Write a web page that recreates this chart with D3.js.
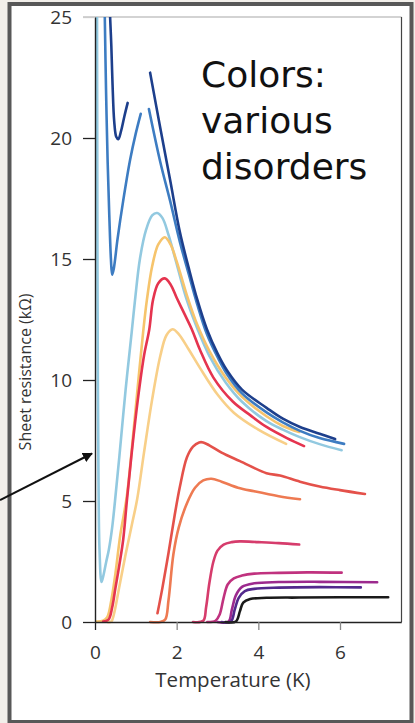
<!DOCTYPE html>
<html>
<head>
<meta charset="utf-8">
<script src="https://cdn.jsdelivr.net/npm/d3@7"></script>
<style>
  html, body { margin: 0; padding: 0; background: #f2efea; }
  svg { display: block; }
  .tick text { font-family: "Open Sans", sans-serif; fill: #333; }
</style>
</head>
<body>
<svg id="chart" width="415" height="723"></svg>
<script>
// Sheet resistance vs temperature, one curve per disorder level: [T (K), R (kΩ)]
const navyLow   = [[0.37,25],[0.40,23.8],[0.43,22.2],[0.47,20.7],[0.52,20.05],[0.57,19.95],[0.64,20.3],[0.72,20.9],[0.80,21.45]];
const navyHigh  = [[1.35,22.7],[1.6,20.4],[1.84,18.26],[2.08,16.1],[2.3,14.6],[2.5,13.35],[2.74,12.1],[3.0,11.1],[3.23,10.4],[3.6,9.6],[4.21,8.84],[4.6,8.4],[5.02,8.06],[5.5,7.78],[5.88,7.56]];
const blueLow   = [[0.24,25],[0.27,22],[0.31,19],[0.35,16.8],[0.39,15],[0.42,14.35],[0.46,14.6],[0.55,15.8],[0.69,17.4],[0.86,19.1],[1.0,20.2],[1.12,21.0]];
const blueHigh  = [[1.32,21.2],[1.6,19.0],[1.84,17.4],[2.08,15.7],[2.3,14.35],[2.5,13.15],[2.74,11.9],[3.0,10.95],[3.23,10.25],[3.6,9.45],[4.21,8.65],[4.6,8.25],[5.02,7.9],[5.5,7.6],[6.1,7.36]];
const lightBlue = [[0.05,25],[0.055,20],[0.06,15],[0.07,10],[0.085,6],[0.11,3],[0.16,1.65],[0.21,1.95],[0.27,2.45],[0.34,3.0],[0.42,3.9],[0.49,5.0],[0.6,6.9],[0.75,9.6],[0.9,12.0],[0.98,13.3],[1.1,15.0],[1.25,16.2],[1.4,16.8],[1.52,16.9],[1.65,16.7],[1.8,16.0],[2.0,14.8],[2.25,13.3],[2.52,12.07],[2.8,11.0],[3.2,9.9],[3.6,9.1],[4.2,8.3],[4.6,7.95],[5.0,7.65],[5.5,7.35],[6.04,7.1]];
const yellowHigh= [[0.0,0.02],[0.2,0.05],[0.3,0.2],[0.4,0.9],[0.5,2.0],[0.62,3.6],[0.78,5.2],[0.95,8.0],[1.08,10.3],[1.18,12.0],[1.27,13.3],[1.4,14.7],[1.55,15.6],[1.71,15.9],[1.85,15.6],[2.0,14.9],[2.25,13.5],[2.5,12.3],[2.8,11.2],[3.2,10.1],[3.6,9.3],[4.2,8.5],[4.6,8.1],[5.0,7.85]];
const red       = [[0.2,0.02],[0.33,0.1],[0.42,0.6],[0.5,1.4],[0.6,2.4],[0.69,3.4],[0.78,5.0],[0.9,7.0],[1.05,9.2],[1.2,11.0],[1.33,12.1],[1.42,13.3],[1.55,14.0],[1.71,14.2],[1.85,13.95],[2.0,13.4],[2.2,12.7],[2.37,12.1],[2.57,11.25],[2.9,10.1],[3.38,9.1],[3.8,8.55],[4.2,8.06],[4.7,7.6],[5.12,7.27]];
const yellowLow = [[0.3,0.0],[0.4,0.02],[0.46,0.3],[0.6,1.5],[0.75,2.8],[0.9,4.0],[1.03,5.05],[1.2,7.0],[1.4,9.2],[1.6,11.0],[1.75,11.85],[1.9,12.1],[2.05,11.9],[2.3,11.25],[2.57,10.5],[3.0,9.4],[3.4,8.65],[4.0,7.95],[4.68,7.36]];
const tomato    = [[1.53,0.36],[1.65,1.4],[1.8,2.85],[1.95,4.4],[2.08,5.6],[2.25,6.8],[2.4,7.25],[2.55,7.42],[2.65,7.42],[2.8,7.3],[3.1,7.0],[3.55,6.65],[4.2,6.15],[4.53,6.05],[5.02,5.8],[5.5,5.6],[6.0,5.45],[6.61,5.29]];
const orange    = [[1.35,0.0],[1.6,0.0],[1.72,0.1],[1.8,0.9],[1.92,2.8],[2.05,3.9],[2.25,4.9],[2.45,5.55],[2.65,5.85],[2.85,5.92],[3.1,5.8],[3.5,5.55],[3.9,5.4],[4.5,5.2],[5.02,5.07]];
const pink      = [[2.4,0.0],[2.65,0.05],[2.72,0.6],[2.8,1.6],[2.9,2.5],[3.0,2.95],[3.15,3.2],[3.35,3.3],[3.55,3.33],[4.0,3.3],[4.5,3.26],[5.0,3.2]];
const magenta   = [[2.75,0.0],[2.95,0.05],[3.05,0.3],[3.15,1.0],[3.25,1.55],[3.4,1.8],[3.6,1.92],[3.9,2.0],[4.5,2.03],[5.2,2.05],[6.04,2.04]];
const plum      = [[3.0,0.0],[3.27,0.02],[3.35,0.5],[3.45,1.1],[3.6,1.45],[3.9,1.6],[4.5,1.65],[5.5,1.66],[6.91,1.64]];
const purple    = [[3.1,0.0],[3.33,0.02],[3.42,0.5],[3.52,1.0],[3.67,1.28],[3.9,1.37],[4.5,1.42],[5.5,1.44],[6.51,1.43]];
const black     = [[3.2,0.0],[3.45,0.02],[3.55,0.45],[3.63,0.8],[3.8,0.95],[4.2,1.0],[5.0,1.01],[6.0,1.02],[7.18,1.02]];

const xTicks = [0, 2, 4, 6];
const yTicks = [0, 5, 10, 15, 20, 25];
const xTitle = "Temperature (K)";
const yTitle = "Sheet resistance (kΩ)";
const noteLines = ["Colors:", "various", "disorders"];

// Drawing order: bottom layers first
const series = [
  { data: lightBlue,  color: "#92c9e0" },
  { data: yellowHigh, color: "#f6c46c" },
  { data: blueLow,    color: "#3d7cc2" },
  { data: blueHigh,   color: "#3d7cc2" },
  { data: navyLow,    color: "#1d3f8c" },
  { data: navyHigh,   color: "#1d3f8c" },
  { data: yellowLow,  color: "#f8cf88" },
  { data: red,        color: "#e5344f" },
  { data: tomato,     color: "#e4514a" },
  { data: orange,     color: "#ee7a52" },
  { data: pink,       color: "#d63c6c" },
  { data: magenta,    color: "#c0327f" },
  { data: plum,       color: "#9c2a8e" },
  { data: purple,     color: "#52298c" },
  { data: black,      color: "#1a1a1a" }
];

const svg = d3.select("#chart");

// Outer panel with grey frame
svg.append("rect").attr("x", 9.5).attr("y", 4).attr("width", 402).attr("height", 718)
  .attr("fill", "#fff").attr("stroke", "#585858").attr("stroke-width", 4);

const x = d3.scaleLinear().domain([0, 7.5]).range([95, 401.25]);
const y = d3.scaleLinear().domain([0, 25]).range([622, 17]);

// Plot frame: light top edge and thin right edge
svg.append("line").attr("x1", 83).attr("x2", 401.5).attr("y1", 17).attr("y2", 17)
  .attr("stroke", "#a8a8a8").attr("stroke-width", 1.2);
svg.append("line").attr("x1", 401.5).attr("x2", 401.5).attr("y1", 17).attr("y2", 622)
  .attr("stroke", "#444").attr("stroke-width", 1.2);

svg.append("clipPath").attr("id", "plotClip")
  .append("rect").attr("x", x(0)).attr("y", y(25)).attr("width", x(7.5) - x(0)).attr("height", y(0) - y(25) + 3);

const line = d3.line()
  .x(d => x(d[0])).y(d => y(d[1]))
  .curve(d3.curveCatmullRom.alpha(0.5));

svg.append("g").attr("clip-path", "url(#plotClip)")
  .selectAll("path").data(series).join("path")
  .attr("d", d => line(d.data))
  .attr("fill", "none")
  .attr("stroke", d => d.color)
  .attr("stroke-width", 2.6)
  .attr("stroke-linecap", "round")
  .attr("stroke-linejoin", "round");

// Axes
const yAxis = svg.append("g").attr("transform", `translate(${x(0)},0)`)
  .call(d3.axisLeft(y).tickValues(yTicks).tickSize(12).tickSizeOuter(0).tickPadding(11));
yAxis.select(".domain").attr("stroke", "#222").attr("stroke-width", 1.4);
yAxis.selectAll(".tick line").attr("stroke", d => d === 25 ? "#ccc" : "#222").attr("stroke-width", 1.3);
yAxis.selectAll(".tick text").attr("font-size", 19);

const xAxis = svg.append("g").attr("transform", `translate(0,${y(0)})`)
  .call(d3.axisBottom(x).tickValues(xTicks).tickSize(8).tickSizeOuter(0).tickPadding(16));
xAxis.select(".domain").attr("stroke", "#222").attr("stroke-width", 1.4);
xAxis.selectAll(".tick line").attr("stroke", d => d === 0 ? "#222" : "#888").attr("stroke-width", 1.3);
xAxis.selectAll(".tick text").attr("font-size", 19);

// Axis titles
svg.append("text")
  .attr("x", 233).attr("y", 687)
  .attr("text-anchor", "middle")
  .attr("font-family", "Open Sans, sans-serif").attr("font-size", 20.5).attr("fill", "#333")
  .text(xTitle);

svg.append("text")
  .attr("transform", "translate(31,372) rotate(-90)")
  .attr("text-anchor", "middle")
  .attr("font-family", "Open Sans, sans-serif").attr("font-size", 16).attr("fill", "#333")
  .text(yTitle);

// Annotation text, one line per text element
svg.append("g").selectAll("text").data(noteLines).join("text")
  .attr("x", 201).attr("y", (d, i) => 87 + i * 46)
  .attr("font-family", "DejaVu Sans, sans-serif").attr("font-size", 36).attr("fill", "#111")
  .text(d => d);

// Arrow pointing at the steep low-temperature curve
const defs = svg.append("defs");
defs.append("marker").attr("id", "arrowHead")
  .attr("viewBox", "0 0 10 10").attr("refX", 9).attr("refY", 5)
  .attr("markerWidth", 5).attr("markerHeight", 5).attr("orient", "auto")
  .append("path").attr("d", "M0,0 L10,5 L0,10 Z").attr("fill", "#111");
svg.append("line")
  .attr("x1", 0).attr("y1", 500).attr("x2", 92).attr("y2", 453.5)
  .attr("stroke", "#111").attr("stroke-width", 2)
  .attr("marker-end", "url(#arrowHead)");
</script>
</body>
</html>
